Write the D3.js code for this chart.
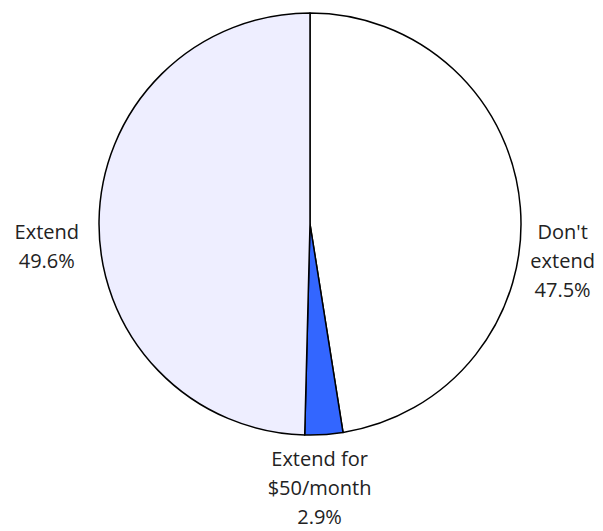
<!DOCTYPE html>
<html>
<head>
<meta charset="utf-8">
<script src="https://cdn.jsdelivr.net/npm/d3@7"></script>
<style>
  body { margin: 0; background: #fff; }
  text { font-family: "Open Sans", sans-serif; font-size: 20px; fill: #222; }
</style>
</head>
<body>
<svg></svg>
<script>
var categories = ["Don't extend", "Extend for $50/month", "Extend"],
  labelLines = [["Don't", "extend"], ["Extend for", "$50/month"], ["Extend"]],
  values = [47.5, 2.9, 49.6],
  colors = ["#ffffff", "#3366ff", "#eeeeff"];

var width = 603,
  height = 531,
  cx = 310,
  cy = 224,
  r = 211,
  lh = 29;

var svg = d3.select("svg").attr("width", width).attr("height", height);

var pie = d3.pie().sort(null).value(function(d) { return d; });
var arc = d3.arc().innerRadius(0).outerRadius(r);

var arcs = pie(values);

var g = svg.append("g").attr("transform", "translate(" + cx + "," + cy + ")");

g.selectAll("path.slice")
  .data(arcs)
  .enter()
  .append("path")
  .attr("class", "slice")
  .attr("d", arc)
  .attr("fill", function(d, i) { return colors[i]; })
  .attr("stroke", "#000")
  .attr("stroke-width", 1.5)
  .attr("stroke-linejoin", "round");

// labels: block hangs off a point just outside the rim
var fmt = d3.format(".1f");
arcs.forEach(function(d, i) {
  var a = (d.startAngle + d.endAngle) / 2,
    s = Math.sin(a),
    c = Math.cos(a),
    lines = labelLines[i].concat([fmt(values[i]) + "%"]);

  var t = g.append("text").attr("text-anchor", "middle");
  lines.forEach(function(l, j) {
    t.append("tspan").attr("x", 0).attr("dy", j ? lh : 0).text(l);
  });
  var bb = t.node().getBBox();
  var ax, ay;
  if (Math.abs(s) > 0.7) {
    var gap = s > 0 ? 10 : 20;
    ax = (r + gap) * s + Math.sign(s) * bb.width / 2;
    ay = 15;
  } else {
    ax = (r + 25) * s - 6;
    ay = -(r + 25) * c + 7;
  }
  t.attr("transform", "translate(" + ax + "," + ay + ")");
});
</script>
</body>
</html>
